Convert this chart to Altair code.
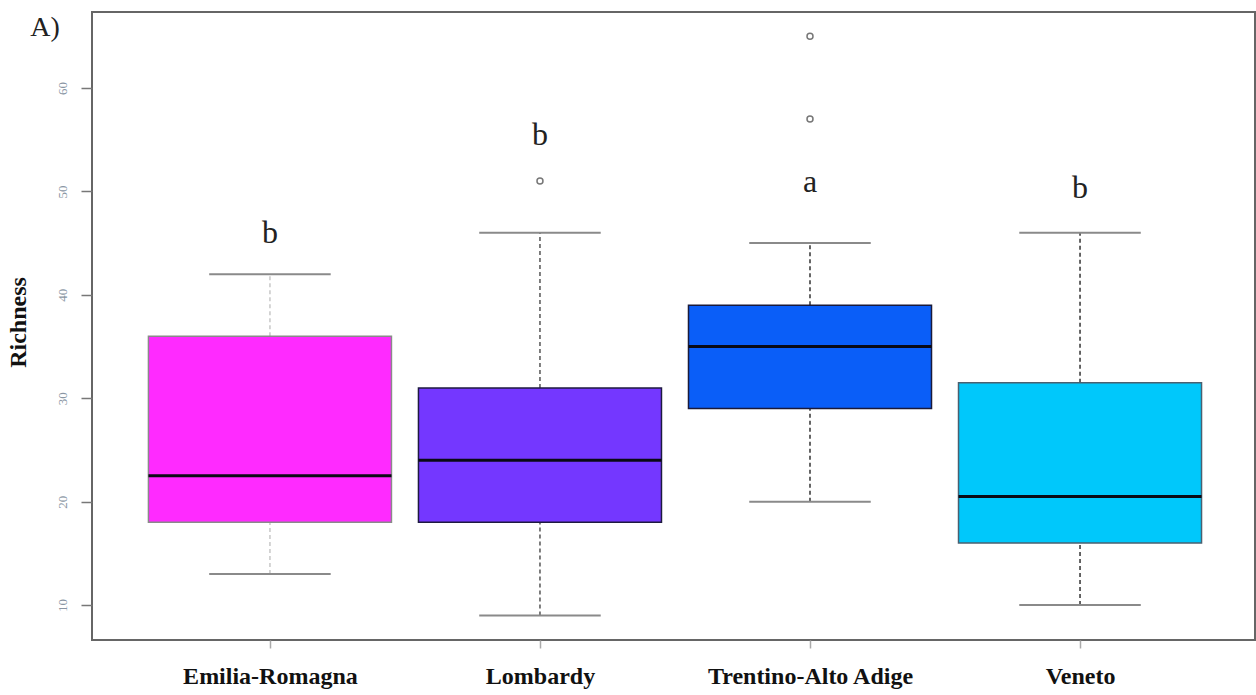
import json
import altair as alt
import pandas as pd

# Species richness by region: box summaries, outliers and group letters
regions = ["Emilia-Romagna", "Lombardy", "Trentino-Alto Adige", "Veneto"]
whisker_low = [13, 9, 20, 10]
q1 = [18, 18, 29, 16]
median = [22.5, 24, 35, 20.5]
q3 = [36, 31, 39, 31.5]
whisker_high = [42, 46, 45, 46]

outlier_region = ["Lombardy", "Trentino-Alto Adige", "Trentino-Alto Adige"]
outlier_value = [51, 57, 65]

letters = ["b", "b", "a", "b"]
letter_value = [45.0, 54.5, 49.9, 49.4]

fill_colors = ["#ff2aff", "#7437ff", "#0a5ef8", "#00c8fb"]
edge_colors = ["#8a8a8a", "#1e1a40", "#1a1a3a", "#4a6070"]
whisker_colors = ["#c8c8c8", "#555555", "#333333", "#333333"]

SERIF = "Liberation Serif"
HALF_BOX = 0.45
HALF_CAP = 0.225

pos = {r: i + 1 for i, r in enumerate(regions)}
boxes = pd.DataFrame({
    "region": regions,
    "lo": whisker_low, "q1": q1, "med": median, "q3": q3, "hi": whisker_high,
    "letter": letters, "letter_y": letter_value,
})
boxes["x"] = boxes["region"].map(pos)
boxes["x_left"] = boxes["x"] - HALF_BOX
boxes["x_right"] = boxes["x"] + HALF_BOX
boxes["cap_left"] = boxes["x"] - HALF_CAP
boxes["cap_right"] = boxes["x"] + HALF_CAP

outliers = pd.DataFrame({"region": outlier_region, "value": outlier_value})
outliers["x"] = outliers["region"].map(pos)

x_scale = alt.Scale(domain=[0.341, 4.648], nice=False, zero=False)
y_scale = alt.Scale(domain=[6.62, 67.35], nice=False, zero=False)
fill_scale = alt.Scale(domain=regions, range=fill_colors)
edge_scale = alt.Scale(domain=regions, range=edge_colors)
whisk_scale = alt.Scale(domain=regions, range=whisker_colors)

label_expr = json.dumps(regions) + "[datum.value - 1]"
x_axis = alt.Axis(
    values=[1, 2, 3, 4], labelExpr=label_expr, title=None, grid=False, domain=False,
    tickSize=8, tickColor="#aaaaaa", tickWidth=1.5, labelPadding=16, labelLimit=400,
    labelFont=SERIF, labelFontSize=24, labelFontWeight="bold", labelColor="#111111",
)
y_axis = alt.Axis(
    values=[10, 20, 30, 40, 50, 60], title="Richness", grid=False, domain=False,
    tickSize=11, tickColor="#777777", tickWidth=1.5,
    labelAngle=-90, labelAlign="center", labelBaseline="bottom", labelPadding=12,
    labelFont=SERIF, labelFontSize=13, labelColor="#8a96a4",
    titleFont=SERIF, titleFontSize=24, titleFontWeight="bold", titleColor="#111111",
    titleAngle=-90, titleAlign="center", titleBaseline="middle", titleX=-74, titleY=310,
)

base = alt.Chart(boxes)

upper_whisker = base.mark_rule(strokeDash=[4, 3], strokeWidth=1.5).encode(
    x=alt.X("x:Q", scale=x_scale, axis=x_axis),
    y=alt.Y("q3:Q", scale=y_scale, axis=y_axis),
    y2="hi:Q",
    color=alt.Color("region:N", scale=whisk_scale, legend=None),
)
lower_whisker = base.mark_rule(strokeDash=[4, 3], strokeWidth=1.5).encode(
    x=alt.X("x:Q", scale=x_scale),
    y=alt.Y("lo:Q", scale=y_scale),
    y2="q1:Q",
    color=alt.Color("region:N", scale=whisk_scale, legend=None),
)
caps_high = base.mark_rule(color="#8a8a8a", strokeWidth=2).encode(
    x=alt.X("cap_left:Q", scale=x_scale), x2="cap_right:Q",
    y=alt.Y("hi:Q", scale=y_scale),
)
caps_low = base.mark_rule(color="#8a8a8a", strokeWidth=2).encode(
    x=alt.X("cap_left:Q", scale=x_scale), x2="cap_right:Q",
    y=alt.Y("lo:Q", scale=y_scale),
)
box = base.mark_rect(strokeWidth=1.5).encode(
    x=alt.X("x_left:Q", scale=x_scale), x2="x_right:Q",
    y=alt.Y("q1:Q", scale=y_scale), y2="q3:Q",
    fill=alt.Fill("region:N", scale=fill_scale, legend=None),
    stroke=alt.Stroke("region:N", scale=edge_scale, legend=None),
)
med_line = base.mark_rule(color="#0a0a14", strokeWidth=3).encode(
    x=alt.X("x_left:Q", scale=x_scale), x2="x_right:Q",
    y=alt.Y("med:Q", scale=y_scale),
)
group_letters = base.mark_text(
    font=SERIF, fontSize=32, color="#222222", baseline="alphabetic", align="center"
).encode(
    x=alt.X("x:Q", scale=x_scale),
    y=alt.Y("letter_y:Q", scale=y_scale),
    text="letter:N",
)
outlier_pts = alt.Chart(outliers).mark_point(
    shape="circle", filled=False, size=36, color="#777777", strokeWidth=1.5, opacity=1
).encode(
    x=alt.X("x:Q", scale=x_scale),
    y=alt.Y("value:Q", scale=y_scale),
)
panel_tag = alt.Chart(pd.DataFrame({"tag": ["A)"]})).mark_text(
    font=SERIF, fontSize=28, color="#222222", align="center", baseline="middle"
).encode(x=alt.value(-47), y=alt.value(16), text="tag:N")

chart = alt.layer(
    upper_whisker, lower_whisker, caps_high, caps_low, box, med_line,
    outlier_pts, group_letters, panel_tag,
).properties(
    width=1163, height=628,
    autosize=alt.AutoSizeParams(type="none"),
    padding={"left": 92, "top": 12, "right": 1, "bottom": 55},
    background="white",
).configure_view(
    stroke="#666666", strokeWidth=2,
)

chart.save("out.html", embed_options={"renderer": "svg", "actions": False})
